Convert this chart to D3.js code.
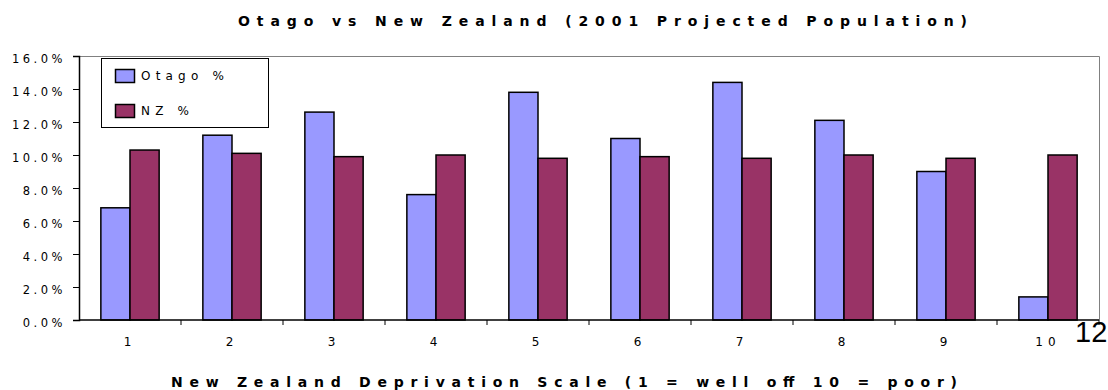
<!DOCTYPE html>
<html>
<head>
<meta charset="utf-8">
<script src="https://cdn.jsdelivr.net/npm/d3@7"></script>
<style>
  html, body { margin: 0; padding: 0; background: #fff; }
  svg { display: block; }
  text { font-family: "DejaVu Sans", sans-serif; fill: #000; }
</style>
</head>
<body>
<svg id="chart" width="1108" height="390"></svg>
<script>
// Deprivation deciles and share of population in each
const deciles = ["1", "2", "3", "4", "5", "6", "7", "8", "9", "10"];
const otagoPct = [6.8, 11.2, 12.6, 7.6, 13.8, 11.0, 14.4, 12.1, 9.0, 1.4];
const nzPct = [10.3, 10.1, 9.9, 10.0, 9.8, 9.9, 9.8, 10.0, 9.8, 10.0];
const seriesNames = ["Otago %", "NZ %"];
const seriesColors = ["#9999FF", "#993366"];
const yTicks = [0, 2, 4, 6, 8, 10, 12, 14, 16];

const svg = d3.select("#chart");
const plot = { left: 79, right: 1099, top: 56, bottom: 320 };

const x = d3.scaleBand().domain(deciles).range([plot.left, plot.right]).paddingInner(0).paddingOuter(0);
// gap between groups = 1.5 bar widths
const inner = d3.scaleBand().domain([0, 1]).range([0, x.bandwidth()]).paddingInner(0).paddingOuter(0.75);
const y = d3.scaleLinear().domain([0, 16]).range([plot.bottom, plot.top]);

// Plot frame (top and right edges)
svg.append("path")
  .attr("d", `M${plot.left},${plot.top + 0.5}H${plot.right + 0.5}V${plot.bottom}`)
  .attr("fill", "none").attr("stroke", "#808080").attr("stroke-width", 1);

// Bars
const series = [otagoPct, nzPct];
series.forEach((vals, si) => {
  svg.append("g").selectAll("rect").data(vals).join("rect")
    .attr("x", (d, i) => x(deciles[i]) + inner(si))
    .attr("y", d => y(d))
    .attr("width", inner.bandwidth())
    .attr("height", d => y(0) - y(d))
    .attr("fill", seriesColors[si])
    .attr("stroke", "#000").attr("stroke-width", 1.5);
});

// Y axis
const yAxis = svg.append("g").attr("transform", `translate(${plot.left},0)`)
  .call(d3.axisLeft(y).tickValues(yTicks).tickSize(6).tickPadding(7)
    .tickFormat(d => d3.format(".1f")(d) + "%"));
yAxis.select(".domain").attr("stroke", "#000").attr("stroke-width", 1.5);
yAxis.selectAll(".tick line").attr("stroke", "#000");
yAxis.selectAll("text").attr("font-size", 11.5).attr("letter-spacing", "3.5px")
  .attr("dy", "0.55em").style("font-family", "DejaVu Sans").attr("fill", "#000");

// X axis with ticks between categories
const xAxis = svg.append("g").attr("transform", `translate(0,${plot.bottom})`);
xAxis.append("line").attr("x1", plot.left).attr("x2", plot.right)
  .attr("stroke", "#000").attr("stroke-width", 1.5);
xAxis.selectAll("line.sep").data(deciles).join("line")
  .attr("class", "sep")
  .attr("x1", (d, i) => plot.left + x.step() * (i + 1))
  .attr("x2", (d, i) => plot.left + x.step() * (i + 1))
  .attr("y1", 0).attr("y2", 5).attr("stroke", "#000");
xAxis.selectAll("text").data(deciles).join("text")
  .attr("x", d => x(d) + x.bandwidth() / 2)
  .attr("y", 26).attr("text-anchor", "middle")
  .attr("font-size", 12).attr("letter-spacing", "5px")
  .text(d => d);

// Titles
svg.append("text").attr("x", 238).attr("y", 25.5)
  .attr("font-size", 14).attr("font-weight", "bold")
  .attr("textLength", 729).attr("lengthAdjust", "spacing")
  .text("Otago vs New Zealand (2001 Projected Population)");
svg.append("text").attr("x", 171).attr("y", 387)
  .attr("font-size", 14).attr("font-weight", "bold")
  .attr("textLength", 786).attr("lengthAdjust", "spacing")
  .text("New Zealand Deprivation Scale (1 = well off 10 = poor)");

// Legend
const legend = svg.append("g");
legend.append("rect").attr("x", 101.5).attr("y", 58.5).attr("width", 167).attr("height", 69)
  .attr("fill", "#fff").attr("stroke", "#000").attr("stroke-width", 1);
seriesNames.forEach((name, i) => {
  const ly = 69 + i * 35;
  legend.append("rect").attr("x", 115.5).attr("y", ly + 0.5).attr("width", 19).attr("height", 13)
    .attr("fill", seriesColors[i]).attr("stroke", "#000").attr("stroke-width", 1.5);
  legend.append("text").attr("x", 141).attr("y", ly + 11)
    .attr("font-size", 12).attr("letter-spacing", "5.2px").text(name);
});

// Slide number
svg.append("text").attr("x", 1075).attr("y", 342)
  .style("font-family", "'Liberation Sans', Arial, sans-serif").attr("font-size", 29).text("12");
</script>
</body>
</html>
